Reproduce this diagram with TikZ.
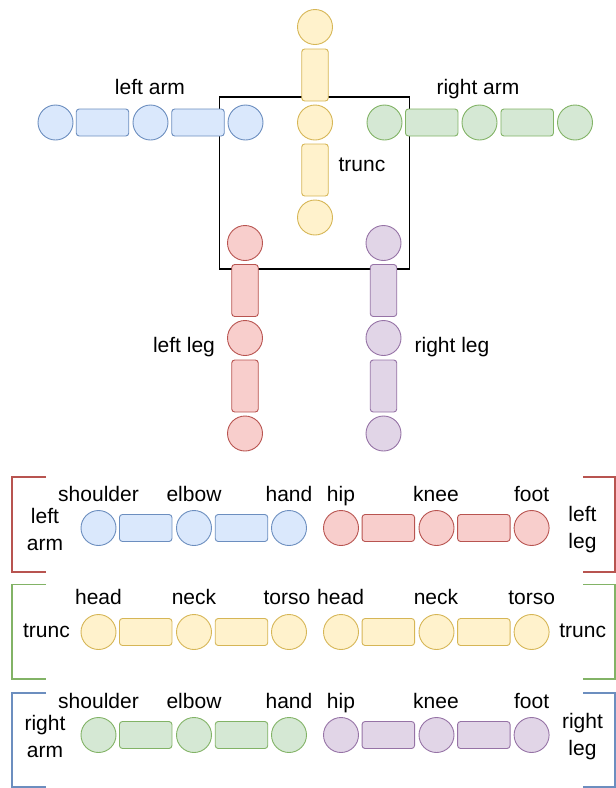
\documentclass[tikz,border=0pt]{standalone}
\usepackage{fontspec}
\setmainfont{Liberation Sans}
\definecolor{bF}{HTML}{DAE8FC}\definecolor{bD}{HTML}{6C8EBF}
\definecolor{gF}{HTML}{D5E8D4}\definecolor{gD}{HTML}{82B366}
\definecolor{yF}{HTML}{FFF2CC}\definecolor{yD}{HTML}{D6B656}
\definecolor{rF}{HTML}{F8CECC}\definecolor{rD}{HTML}{B85450}
\definecolor{pF}{HTML}{E1D5E7}\definecolor{pD}{HTML}{9673A6}
\tikzset{
  joint/.style={circle, minimum size=35pt, inner sep=0pt, line width=0.9pt},
  hbone/.style={rectangle, rounded corners=3pt, minimum width=52.5pt, minimum height=27pt, inner sep=0pt, line width=0.9pt},
  vbone/.style={rectangle, rounded corners=3pt, minimum width=26.5pt, minimum height=52pt, inner sep=0pt, line width=0.9pt},
  blue/.style={fill=bF, draw=bD}, green/.style={fill=gF, draw=gD},
  yel/.style={fill=yF, draw=yD}, red/.style={fill=rF, draw=rD}, pur/.style={fill=pF, draw=pD},
  lbl/.style={font=\fontsize{21}{27}\selectfont, inner sep=0pt, text height=15.5pt, text depth=4.5pt},
  mlbl/.style={font=\fontsize{21}{27}\selectfont, inner sep=0pt, align=center},
  brk/.style={line width=1.7pt}
}
\begin{document}
\begin{tikzpicture}[x=1pt,y=-1pt]
\useasboundingbox (0,0) rectangle (616,788);
% body box
\node[draw=black, line width=1.2pt, minimum width=190pt, minimum height=172pt, inner sep=0pt] (box) at (314.5,183) {};
% left arm
\node[joint,blue] (la1) at (55.5,122.5) {};
\node[hbone,blue] (la2) at (102.5,122.5) {};
\node[joint,blue] (la3) at (150.5,122.5) {};
\node[hbone,blue] (la4) at (198,122.5) {};
\node[joint,blue] (la5) at (245.5,122.5) {};
% right arm
\node[joint,green] (ra1) at (384.5,122.5) {};
\node[hbone,green] (ra2) at (431.7,122.5) {};
\node[joint,green] (ra3) at (479.5,122.5) {};
\node[hbone,green] (ra4) at (527.2,122.5) {};
\node[joint,green] (ra5) at (575,122.5) {};
% trunc
\node[joint,yel] (t1) at (315,27) {};
\node[vbone,yel] (t2) at (315,75) {};
\node[joint,yel] (t3) at (315,122.5) {};
\node[vbone,yel] (t4) at (315,170) {};
\node[joint,yel] (t5) at (315,217.5) {};
% left leg
\node[joint,red] (ll1) at (245,243) {};
\node[vbone,red] (ll2) at (245,290.5) {};
\node[joint,red] (ll3) at (245,338) {};
\node[vbone,red] (ll4) at (245,386) {};
\node[joint,red] (ll5) at (245,433.5) {};
% right leg
\node[joint,pur] (rl1) at (383.5,243) {};
\node[vbone,pur] (rl2) at (383.5,290.5) {};
\node[joint,pur] (rl3) at (383.5,338) {};
\node[vbone,pur] (rl4) at (383.5,386) {};
\node[joint,pur] (rl5) at (383.5,433.5) {};
% top labels
\node[lbl] (tla) at (150,89) {left arm};
\node[lbl] (tra) at (478,89) {right arm};
\node[lbl] (ttr) at (362,166) {trunc};
\node[lbl] (tll) at (184,347) {left leg};
\node[lbl] (trl) at (452,347) {right leg};
% ---- bottom rows ----
% row 1
\node[joint,blue] (a1) at (98.5,528) {};
\node[hbone,blue] (a2) at (145.7,528) {};
\node[joint,blue] (a3) at (194,528) {};
\node[hbone,blue] (a4) at (241.5,528) {};
\node[joint,blue] (a5) at (289,528) {};
\node[joint,red] (b1) at (341,528) {};
\node[hbone,red] (b2) at (388.3,528) {};
\node[joint,red] (b3) at (436.5,528) {};
\node[hbone,red] (b4) at (483.8,528) {};
\node[joint,red] (b5) at (531.6,528) {};
\node[lbl] at (98.5,495.5) {shoulder};
\node[lbl] at (194,495.5) {elbow};
\node[lbl] at (289,495.5) {hand};
\node[lbl] at (341,495.5) {hip};
\node[lbl] at (436,495.5) {knee};
\node[lbl] at (531.6,495.5) {foot};
\node[mlbl] at (45,529.5) {left\\arm};
\node[mlbl] at (582.5,529.5) {left\\leg};
% row 2
\node[joint,yel] (c1) at (98.5,632) {};
\node[hbone,yel] (c2) at (145.7,632) {};
\node[joint,yel] (c3) at (194,632) {};
\node[hbone,yel] (c4) at (241.5,632) {};
\node[joint,yel] (c5) at (289,632) {};
\node[joint,yel] (d1) at (341,632) {};
\node[hbone,yel] (d2) at (388.3,632) {};
\node[joint,yel] (d3) at (436.5,632) {};
\node[hbone,yel] (d4) at (483.8,632) {};
\node[joint,yel] (d5) at (531.6,632) {};
\node[lbl] at (98.5,599) {head};
\node[lbl] at (194,599) {neck};
\node[lbl] at (287,599) {torso};
\node[lbl] at (340.6,599) {head};
\node[lbl] at (436,599) {neck};
\node[lbl] at (531.6,599) {torso};
\node[lbl] at (46.5,632) {trunc};
\node[lbl] at (582.7,632) {trunc};
% row 3
\node[joint,green] (e1) at (98.5,735) {};
\node[hbone,green] (e2) at (145.7,735) {};
\node[joint,green] (e3) at (194,735) {};
\node[hbone,green] (e4) at (241.5,735) {};
\node[joint,green] (e5) at (289,735) {};
\node[joint,pur] (f1) at (341,735) {};
\node[hbone,pur] (f2) at (388.3,735) {};
\node[joint,pur] (f3) at (436.5,735) {};
\node[hbone,pur] (f4) at (483.8,735) {};
\node[joint,pur] (f5) at (531.6,735) {};
\node[lbl] at (98.5,703) {shoulder};
\node[lbl] at (194,703) {elbow};
\node[lbl] at (289,703) {hand};
\node[lbl] at (341,703) {hip};
\node[lbl] at (436,703) {knee};
\node[lbl] at (531.6,703) {foot};
\node[mlbl] at (45,736.5) {right\\arm};
\node[mlbl] at (582.5,736.5) {right\\leg};
% brackets
\draw[brk, draw=rD] (46,476.7) -- (12,476.7) -- (12,571.7) -- (46,571.7);
\draw[brk, draw=rD] (583,476.7) -- (615,476.7) -- (615,571.7) -- (583,571.7);
\draw[brk, draw=gD] (46,584.5) -- (12,584.5) -- (12,679) -- (46,679);
\draw[brk, draw=gD] (583,584.5) -- (615,584.5) -- (615,679) -- (583,679);
\draw[brk, draw=bD] (46,692.7) -- (12,692.7) -- (12,786.7) -- (46,786.7);
\draw[brk, draw=bD] (583,692.7) -- (615,692.7) -- (615,786.7) -- (583,786.7);
\end{tikzpicture}
\end{document}
